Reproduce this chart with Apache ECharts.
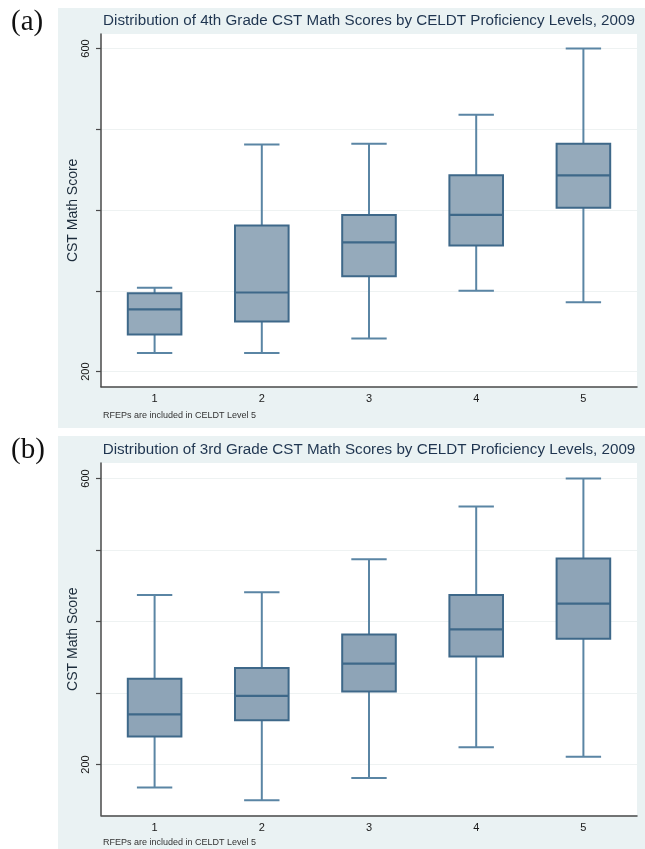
<!DOCTYPE html>
<html>
<head>
<meta charset="utf-8">
<style>
  html, body { margin: 0; padding: 0; background: #ffffff; }
  #chart { width: 645px; height: 849px; }
</style>
<script src="https://cdn.jsdelivr.net/npm/echarts@6/dist/echarts.min.js"></script>
</head>
<body>
<div id="chart"></div>
<script>
// ---- Data ----
const categories = ['1', '2', '3', '4', '5'];

// Panel (a): 4th grade
const g4Min    = [223, 223, 241, 300, 286];
const g4Q1     = [246, 262, 318, 356, 403];
const g4Median = [277, 298, 360, 394, 443];
const g4Q3     = [297, 381, 394, 443, 482];
const g4Max    = [304, 481, 482, 518, 600];

// Panel (b): 3rd grade
const g3Min    = [168, 150, 181, 224, 211];
const g3Q1     = [239, 262, 302, 351, 376];
const g3Median = [270, 296, 341, 389, 425];
const g3Q3     = [320, 335, 382, 437, 488];
const g3Max    = [437, 441, 487, 561, 600];

const yTickValues  = [200, 300, 400, 500, 600];
const yLabelValues = [200, 600];

const titleA = 'Distribution of 4th Grade CST Math Scores by CELDT Proficiency Levels, 2009';
const titleB = 'Distribution of 3rd Grade CST Math Scores by CELDT Proficiency Levels, 2009';
const noteText = 'RFEPs are included in CELDT Level 5';
const yName = 'CST Math Score';

// ---- Build ----
function rows(mn, q1, md, q3, mx) {
  return categories.map((c, i) => [i, mn[i], q1[i], md[i], q3[i], mx[i]]);
}

const FONT = '"Liberation Sans", Arial, Helvetica, sans-serif';
const boxBorder = '#3e6889';
const whiskerColor = '#5a85a4';

function makeRender(fill) {
  return function (params, api) {
    const x = api.value(0);
    const pMin = api.coord([x, api.value(1)]);
    const pQ1 = api.coord([x, api.value(2)]);
    const pMed = api.coord([x, api.value(3)]);
    const pQ3 = api.coord([x, api.value(4)]);
    const pMax = api.coord([x, api.value(5)]);
    const bandW = api.size([1, 0])[0];
    const bw = bandW * 0.5;
    const cw = bandW * 0.33;
    const cx = pMed[0];
    const lineW = { stroke: whiskerColor, lineWidth: 2 };
    return {
      type: 'group',
      children: [
        { type: 'line', shape: { x1: cx, y1: pQ3[1], x2: cx, y2: pMax[1] }, style: lineW },
        { type: 'line', shape: { x1: cx, y1: pQ1[1], x2: cx, y2: pMin[1] }, style: lineW },
        { type: 'line', shape: { x1: cx - cw / 2, y1: pMax[1], x2: cx + cw / 2, y2: pMax[1] }, style: lineW },
        { type: 'line', shape: { x1: cx - cw / 2, y1: pMin[1], x2: cx + cw / 2, y2: pMin[1] }, style: lineW },
        { type: 'rect', shape: { x: cx - bw / 2, y: pQ3[1], width: bw, height: pQ1[1] - pQ3[1] },
          style: { fill: fill, stroke: boxBorder, lineWidth: 2 } },
        { type: 'line', shape: { x1: cx - bw / 2, y1: pMed[1], x2: cx + bw / 2, y2: pMed[1] },
          style: { stroke: boxBorder, lineWidth: 2.2 } }
      ]
    };
  };
}

function yAxisCfg(gridIndex, min, max) {
  return {
    type: 'value', gridIndex: gridIndex, min: min, max: max,
    name: yName, nameLocation: 'middle', nameRotate: 90, nameGap: 21, nameMoveOverlap: false,
    nameTextStyle: { fontFamily: FONT, fontSize: 14, color: '#1b2b3a' },
    axisLine: { show: true, lineStyle: { color: '#4a4a4a', width: 1.5 } },
    axisTick: { show: true, length: 5, customValues: yTickValues, lineStyle: { color: '#4a4a4a', width: 1.2 } },
    axisLabel: {
      rotate: 90, margin: 10, fontFamily: FONT, fontSize: 11, color: '#1a1a1a',
      customValues: yLabelValues,
      formatter: v => (yLabelValues.indexOf(v) >= 0 ? String(v) : '')
    },
    splitLine: { show: true, lineStyle: { color: '#eef2f2', width: 1 } }
  };
}

function xAxisCfg(gridIndex) {
  return {
    type: 'category', gridIndex: gridIndex, data: categories, boundaryGap: true,
    axisLine: { show: true, lineStyle: { color: '#4a4a4a', width: 1.5 } },
    axisTick: { show: false },
    axisLabel: { margin: 7, fontFamily: FONT, fontSize: 11, color: '#1a1a1a' },
    splitLine: { show: false }
  };
}

const chart = echarts.init(document.getElementById('chart'), null, { renderer: 'canvas' });

const option = {
  backgroundColor: '#ffffff',
  animation: false,
  title: [
    { text: titleA, left: 369, top: 13, textAlign: 'center', padding: 0,
      textStyle: { fontFamily: FONT, fontSize: 15.2, fontWeight: 'normal', color: '#1f3550' } },
    { text: titleB, left: 369, top: 442, textAlign: 'center', padding: 0,
      textStyle: { fontFamily: FONT, fontSize: 15.2, fontWeight: 'normal', color: '#1f3550' } }
  ],
  graphic: [
    { type: 'rect', z: -10, silent: true, shape: { x: 58, y: 8, width: 587, height: 420 }, style: { fill: '#eaf2f3' } },
    { type: 'rect', z: -10, silent: true, shape: { x: 58, y: 436, width: 587, height: 413 }, style: { fill: '#eaf2f3' } },
    { type: 'text', style: { text: '(a)', x: 11, y: 22, font: '29px "Liberation Serif", "Times New Roman", serif', fill: '#111', textVerticalAlign: 'middle' } },
    { type: 'text', style: { text: '(b)', x: 11, y: 450, font: '29px "Liberation Serif", "Times New Roman", serif', fill: '#111', textVerticalAlign: 'middle' } },
    { type: 'text', style: { text: noteText, x: 103, y: 416, font: '9px ' + FONT, fill: '#333', textVerticalAlign: 'middle' } },
    { type: 'text', style: { text: noteText, x: 103, y: 843, font: '9px ' + FONT, fill: '#333', textVerticalAlign: 'middle' } }
  ],
  grid: [
    { left: 101, top: 34, width: 536, height: 352.7, show: true, backgroundColor: '#ffffff', borderWidth: 0 },
    { left: 101, top: 463, width: 536, height: 352.3, show: true, backgroundColor: '#ffffff', borderWidth: 0 }
  ],
  xAxis: [xAxisCfg(0), xAxisCfg(1)],
  yAxis: [yAxisCfg(0, 181.4, 617.9), yAxisCfg(1, 128.95, 621.7)],
  series: [
    { type: 'custom', name: 'Grade 4', xAxisIndex: 0, yAxisIndex: 0,
      renderItem: makeRender('#95aabb'),
      encode: { x: 0, y: [1, 2, 3, 4, 5] },
      data: rows(g4Min, g4Q1, g4Median, g4Q3, g4Max) },
    { type: 'custom', name: 'Grade 3', xAxisIndex: 1, yAxisIndex: 1,
      renderItem: makeRender('#8ea4b7'),
      encode: { x: 0, y: [1, 2, 3, 4, 5] },
      data: rows(g3Min, g3Q1, g3Median, g3Q3, g3Max) }
  ]
};

chart.setOption(option);
</script>
</body>
</html>
